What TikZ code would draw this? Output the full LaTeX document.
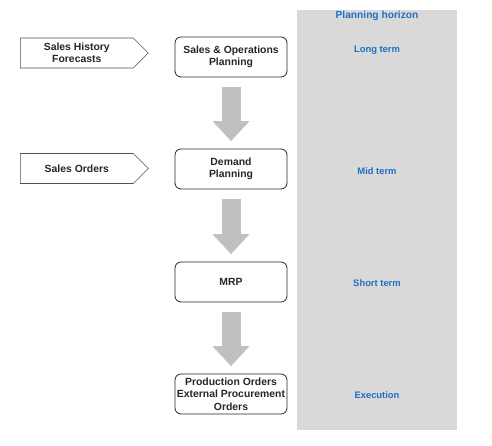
\documentclass[tikz,border=0pt]{standalone}
\usepackage{fontspec}
\setmainfont{Liberation Sans}
\usetikzlibrary{calc, positioning, arrows.meta, shapes.symbols}

\definecolor{panelgray}{HTML}{D9D9D9}
\definecolor{arrowgray}{HTML}{C0C0C0}
\definecolor{horizonblue}{HTML}{1F6FC4}
\definecolor{textdark}{HTML}{262626}
\definecolor{edgegray}{HTML}{505050}

\tikzset{
  stagebox/.style={draw=textdark, line width=0.8pt, rounded corners=6pt,
    minimum width=112pt, minimum height=40pt, inner sep=1pt, align=center,
    text=textdark, font=\fontsize{10.4}{12.5}\selectfont\bfseries},
  inputsignal/.style={signal, signal to=east, draw=edgegray, line width=0.6pt,
    minimum width=128pt, minimum height=30pt, inner sep=1pt, align=center,
    anchor=west, text=textdark, font=\fontsize{10.4}{12.5}\selectfont\bfseries},
  flowarrow/.style={arrowgray, line width=19pt,
    -{Triangle[length=20pt, width=37pt, line width=0pt]},
    shorten <=10pt, shorten >=7.5pt},
  horizonlabel/.style={text=horizonblue, font=\fontsize{9.4}{11}\selectfont\bfseries}
}

\begin{document}
\begin{tikzpicture}[x=1pt, y=-1pt]
  \useasboundingbox (0,0) rectangle (492,445);

  % Planning horizon panel
  \fill[panelgray] (297,10) rectangle (457,430);
  \node[horizonlabel, font=\fontsize{10.2}{12}\selectfont\bfseries] (horizon) at (377,16) {Planning horizon};

  % Planning stages
  \node[stagebox] (sop) at (231,57) {Sales \& Operations\\Planning};
  \node[stagebox] (demand) at (231,169) {Demand\\Planning};
  \node[stagebox] (mrp) at (231,282) {MRP};
  \node[stagebox] (orders) at (231,394) {Production Orders\\External Procurement\\Orders};

  % Inputs
  \node[inputsignal] (history) at (20,53) {Sales History\\Forecasts};
  \node[inputsignal] (salesorders) at (20,168.5) {Sales Orders};

  % Flow between stages
  \draw[flowarrow] (sop) -- (demand);
  \draw[flowarrow] (demand) -- (mrp);
  \draw[flowarrow] (mrp) -- (orders);

  % Horizon labels
  \node[horizonlabel] (longterm) at (377,50) {Long term};
  \node[horizonlabel] (midterm) at (377,171) {Mid term};
  \node[horizonlabel] (shortterm) at (377,283) {Short term};
  \node[horizonlabel] (execution) at (377,395) {Execution};
\end{tikzpicture}
\end{document}
